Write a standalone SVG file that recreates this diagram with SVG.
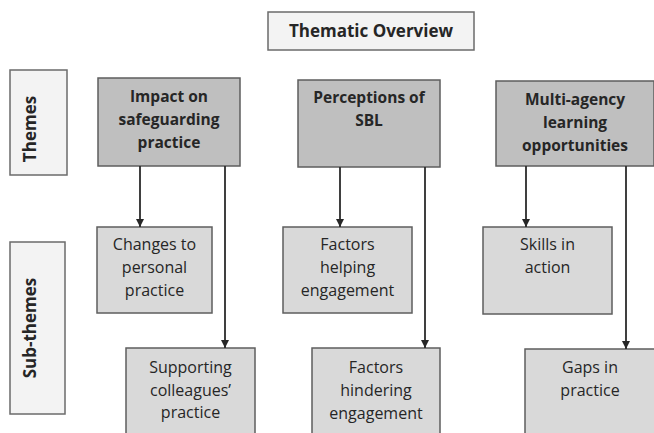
<svg xmlns="http://www.w3.org/2000/svg" width="654" height="433" viewBox="0 0 654 433">
  <defs>
    <marker id="arrow" viewBox="0 0 10 10" refX="10" refY="5" markerWidth="8" markerHeight="8" markerUnits="userSpaceOnUse" orient="auto">
      <path d="M0,0 L10,5 L0,10 z" fill="#262626"/>
    </marker>
    <style>
      text { font-family: "Open Sans", "Liberation Sans", Arial, sans-serif; fill: #262626; text-anchor: middle; }
      .title { font-size: 17px; font-weight: bold; }
      .side { font-size: 17px; font-weight: bold; }
      .theme { font-size: 15.5px; font-weight: bold; }
      .sub { font-size: 16px; }
      .labelbox { fill: #f3f3f3; stroke: #6b6b6b; stroke-width: 1.5; }
      .themebox { fill: #bfbfbf; stroke: #5e5e5e; stroke-width: 1.5; }
      .subbox { fill: #d9d9d9; stroke: #5e5e5e; stroke-width: 1.5; }
      .conn { stroke: #2b2b2b; stroke-width: 1.8; fill: none; marker-end: url(#arrow); }
    </style>
  </defs>
  <rect width="654" height="433" fill="#ffffff"/>

  <!-- heading -->
  <g id="title">
    <rect class="labelbox" x="268" y="12" width="206" height="38"/>
    <text class="title" x="371" y="37">Thematic Overview</text>
  </g>

  <!-- row labels -->
  <g id="label-themes">
    <rect class="labelbox" x="10" y="70" width="57" height="105"/>
    <text class="side" transform="translate(36,129) rotate(-90)">Themes</text>
  </g>
  <g id="label-subthemes">
    <rect class="labelbox" x="10" y="242" width="55" height="172"/>
    <text class="side" transform="translate(36,328) rotate(-90)">Sub-themes</text>
  </g>

  <!-- themes -->
  <g id="theme-impact">
    <rect class="themebox" x="98" y="78" width="142" height="88"/>
    <text class="theme" x="169" y="102">Impact on</text>
    <text class="theme" x="169" y="125">safeguarding</text>
    <text class="theme" x="169" y="148">practice</text>
  </g>
  <g id="theme-perceptions">
    <rect class="themebox" x="298" y="80" width="142" height="87"/>
    <text class="theme" x="369" y="103">Perceptions of</text>
    <text class="theme" x="369" y="126">SBL</text>
  </g>
  <g id="theme-multiagency">
    <rect class="themebox" x="496" y="81" width="158" height="85"/>
    <text class="theme" x="575" y="105">Multi-agency</text>
    <text class="theme" x="575" y="128">learning</text>
    <text class="theme" x="575" y="151">opportunities</text>
  </g>

  <!-- sub-themes, first row -->
  <g id="sub-changes">
    <rect class="subbox" x="97" y="227" width="115" height="86"/>
    <text class="sub" x="154.5" y="250">Changes to</text>
    <text class="sub" x="154.5" y="273">personal</text>
    <text class="sub" x="154.5" y="296">practice</text>
  </g>
  <g id="sub-helping">
    <rect class="subbox" x="283" y="227" width="129" height="86"/>
    <text class="sub" x="347.5" y="250">Factors</text>
    <text class="sub" x="347.5" y="273">helping</text>
    <text class="sub" x="347.5" y="296">engagement</text>
  </g>
  <g id="sub-skills">
    <rect class="subbox" x="483" y="227" width="129" height="87"/>
    <text class="sub" x="547.5" y="250">Skills in</text>
    <text class="sub" x="547.5" y="273">action</text>
  </g>

  <!-- sub-themes, second row -->
  <g id="sub-supporting">
    <rect class="subbox" x="126" y="348" width="129" height="95"/>
    <text class="sub" x="190.5" y="373">Supporting</text>
    <text class="sub" x="190.5" y="396">colleagues’</text>
    <text class="sub" x="190.5" y="418">practice</text>
  </g>
  <g id="sub-hindering">
    <rect class="subbox" x="312" y="348" width="128" height="95"/>
    <text class="sub" x="376" y="373">Factors</text>
    <text class="sub" x="376" y="396">hindering</text>
    <text class="sub" x="376" y="419">engagement</text>
  </g>
  <g id="sub-gaps">
    <rect class="subbox" x="525" y="349" width="130" height="95"/>
    <text class="sub" x="590" y="373">Gaps in</text>
    <text class="sub" x="590" y="396">practice</text>
  </g>

  <!-- connectors -->
  <g id="connectors">
    <line class="conn" x1="140" y1="166" x2="140" y2="227"/>
    <line class="conn" x1="225" y1="166" x2="225" y2="348"/>
    <line class="conn" x1="340" y1="167" x2="340" y2="227"/>
    <line class="conn" x1="425" y1="167" x2="425" y2="348"/>
    <line class="conn" x1="526" y1="166" x2="526" y2="227"/>
    <line class="conn" x1="626" y1="166" x2="626" y2="349"/>
  </g>
</svg>
